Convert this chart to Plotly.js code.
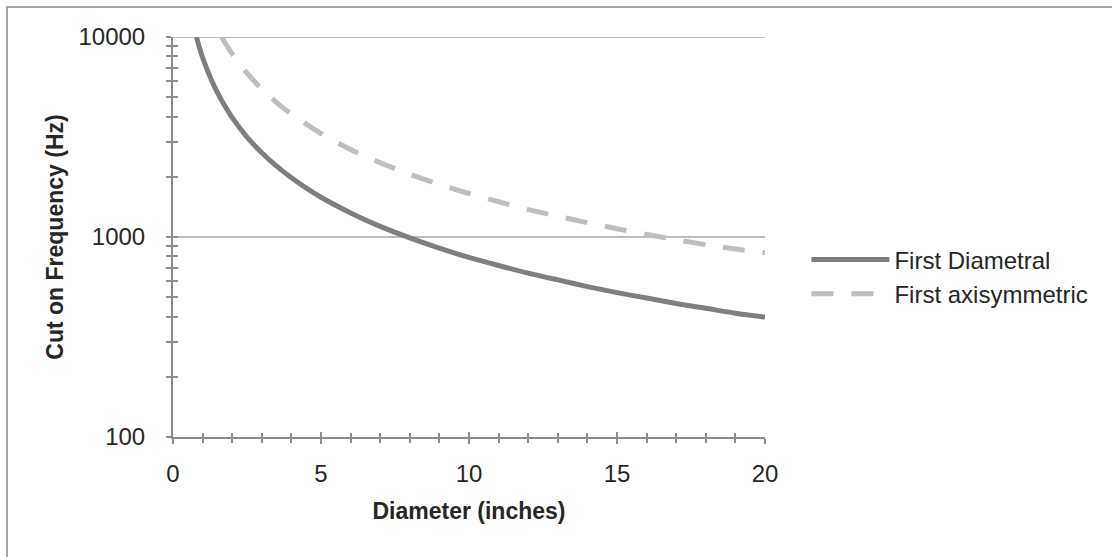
<!DOCTYPE html>
<html>
<head>
<meta charset="utf-8">
<script src="https://cdn.plot.ly/plotly-3.0.1.min.js"></script>
<style>
  html, body { margin: 0; padding: 0; background: #ffffff; overflow: hidden; }
  #chart { position: absolute; left: 0; top: 0; width: 1112px; height: 557px; }
  #frame { position: absolute; left: 6px; top: 6px; width: 1200px; height: 700px;
           border-left: 2px solid #a6a6a6; border-top: 2px solid #a6a6a6; pointer-events: none; }
</style>
</head>
<body>
<div id="chart"></div>
<div id="frame"></div>
<script>
// Diameter (inches) and cut-on frequency (Hz)
const diamDiametral = [0.79, 0.9, 1, 1.2, 1.4, 1.6, 1.8, 2, 2.5, 3, 3.5, 4, 5, 6, 7, 8, 9, 10, 11, 12, 13, 14, 15, 16, 17, 18, 19, 20];
const freqDiametral = [10000, 8800, 7900, 6600, 5650, 4950, 4400, 3950, 3160, 2640, 2260, 1980, 1580, 1320, 1130, 990, 880, 790, 720, 660, 610, 565, 527, 495, 465, 440, 416, 398];

const diamAxisym = [1.65, 1.8, 2, 2.5, 3, 3.5, 4, 5, 6, 7, 8, 9, 10, 11, 12, 13, 14, 15, 16, 17, 18, 19, 20];
const freqAxisym = [10000, 9150, 8230, 6590, 5490, 4700, 4120, 3290, 2740, 2350, 2060, 1830, 1650, 1500, 1370, 1270, 1180, 1100, 1030, 970, 915, 870, 835];

const seriesNames = ["First Diametral", "First axisymmetric"];
const xTickVals = [0, 5, 10, 15, 20];
const yMajor = [100, 1000, 10000];
const yTickVals = [100, 200, 300, 400, 500, 600, 700, 800, 900, 1000, 2000, 3000, 4000, 5000, 6000, 7000, 8000, 9000, 10000];
const yTickText = yTickVals.map(v => yMajor.includes(v) ? String(v) : "");

const FONT = "Liberation Sans, Arial, sans-serif";
const AX = "#8c8c8c";
const TXT = "#262626";

const traces = [
  { x: diamDiametral, y: freqDiametral, name: seriesNames[0], type: "scatter", mode: "lines",
    line: { color: "#7f7f7f", width: 5, shape: "spline", smoothing: 0.8 }, xaxis: "x", yaxis: "y" },
  { x: diamAxisym, y: freqAxisym, name: seriesNames[1], type: "scatter", mode: "lines",
    line: { color: "#bfbfbf", width: 5, dash: "22px,18px", shape: "spline", smoothing: 0.8 }, xaxis: "x", yaxis: "y" },
  // invisible helper trace to activate the overlay axes that draw the inner half of the crossing ticks
  { x: [0], y: [100], xaxis: "x2", yaxis: "y2", mode: "markers", marker: { opacity: 0 },
    showlegend: false, hoverinfo: "skip" }
];

const layout = {
  width: 1112, height: 557,
  paper_bgcolor: "rgba(0,0,0,0)", plot_bgcolor: "rgba(0,0,0,0)",
  margin: { l: 173, r: 347, t: 37, b: 120, pad: 0 },
  font: { family: FONT, size: 24, color: TXT },
  showlegend: true,
  legend: { x: 1.07, xanchor: "left", y: 0.4, yanchor: "middle", itemwidth: 78,
            font: { family: FONT, size: 24, color: TXT }, bgcolor: "rgba(0,0,0,0)" },
  xaxis: {
    range: [0, 20], tickvals: xTickVals, ticks: "outside", ticklen: 5, tickwidth: 2, tickcolor: AX,
    minor: { dtick: 1, ticks: "outside", ticklen: 4, tickwidth: 2, tickcolor: AX, showgrid: false },
    showline: true, linecolor: AX, linewidth: 2, showgrid: false, zeroline: false,
    ticklabelstandoff: 9,
    tickfont: { family: FONT, size: 24, color: TXT },
    title: { text: "<b>Diameter (inches)</b>", font: { family: FONT, size: 23, color: TXT }, standoff: 17 }
  },
  yaxis: {
    type: "log", range: [2, 4], tickvals: yTickVals, ticktext: yTickText,
    ticks: "outside", ticklen: 5, tickwidth: 2, tickcolor: AX,
    showline: true, linecolor: AX, linewidth: 2,
    showgrid: false, zeroline: false,
    ticklabelstandoff: 16,
    tickfont: { family: FONT, size: 24, color: TXT },
    title: { text: "<b>Cut on Frequency (Hz)</b>", font: { family: FONT, size: 23, color: TXT }, standoff: 8 }
  },
  xaxis2: {
    overlaying: "x", anchor: "y", side: "bottom", range: [0, 20], tickvals: xTickVals,
    ticks: "inside", ticklen: 5, tickwidth: 2, tickcolor: AX,
    minor: { dtick: 1, ticks: "inside", ticklen: 4, tickwidth: 2, tickcolor: AX, showgrid: false },
    showticklabels: false, showline: false, showgrid: false, zeroline: false
  },
  yaxis2: {
    overlaying: "y", anchor: "x", side: "left", type: "log", range: [2, 4], tickvals: yTickVals,
    ticks: "inside", ticklen: 5, tickwidth: 2, tickcolor: AX,
    showticklabels: false, showline: false, zeroline: false, showgrid: false
  },
  shapes: yMajor.slice(1).map(v => ({ type: "line", xref: "paper", yref: "y", x0: 0, x1: 1, y0: v, y1: v,
      line: { color: "#a6a6a6", width: 1.5 }, layer: "below" }))
};

Plotly.newPlot("chart", traces, layout, { displayModeBar: false, staticPlot: true });
</script>
</body>
</html>
